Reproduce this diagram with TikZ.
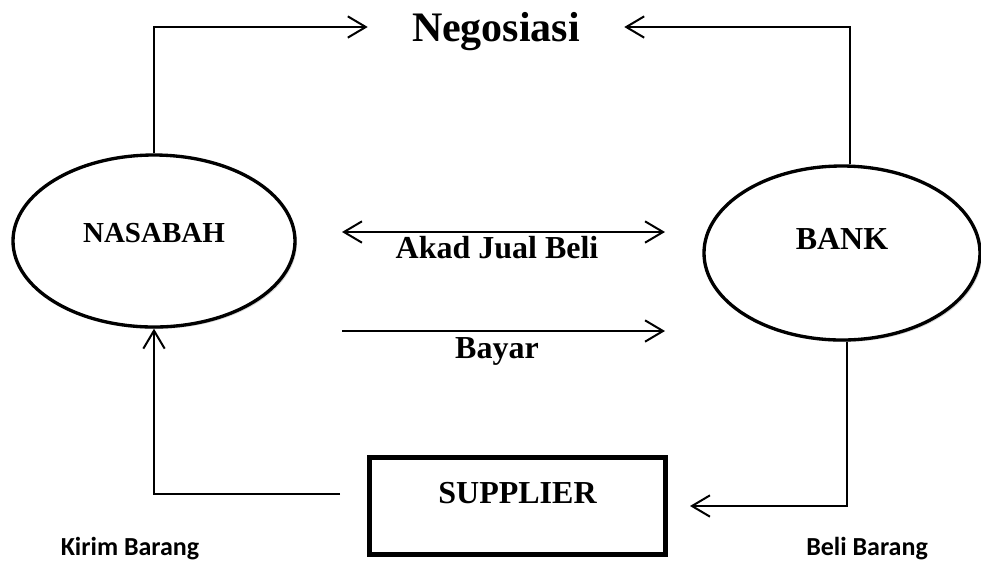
\documentclass[tikz,border=0pt]{standalone}
\usepackage{fontspec}
\setmainfont{Liberation Serif}
\newfontfamily\calibrifont{Carlito}
\usepackage{tikz}
\usetikzlibrary{arrows.meta,shapes.geometric,calc,positioning,shadows}

\tikzset{
  >={Straight Barb[length=13.5pt,width=16pt]},
  soft shade/.style={drop shadow={shadow xshift=1.5pt,shadow yshift=-1.5pt,fill=black!30,opacity=.5}},
  actor/.style={ellipse,draw,fill=white,line width=2.5pt,inner sep=0pt,soft shade},
  flow/.style={line width=1.5pt,->},
  lbl/.style={inner sep=0.75pt,font=\bfseries\fontsize{24}{28}\selectfont},
  note/.style={inner sep=0.75pt,font=\calibrifont\bfseries\fontsize{19.5}{23}\selectfont},
}

\begin{document}
\begin{tikzpicture}[x=0.75pt,y=0.75pt,yscale=-1,xscale=1]
  \useasboundingbox (0,0) rectangle (981,562);

  % Text Node
  \node [font=\bfseries\fontsize{31.5}{36}\selectfont,text depth=0pt,inner xsep=33pt,inner ysep=0pt] (nego) at (496,27) {Negosiasi};

  %Shape: Ellipse
  \node [actor,minimum width=211.5pt,minimum height=129pt,text depth=12pt,font=\bfseries\fontsize{21.75}{26}\selectfont] (nasabah) at (154,241) {NASABAH};
  %Shape: Ellipse
  \node [actor,minimum width=207pt,minimum height=130.5pt,text depth=21pt,font=\bfseries\fontsize{24}{28}\selectfont] (bank) at (842,253) {BANK};
  %Shape: Rectangle
  \node [draw,fill=white,soft shade,line width=3.75pt,inner sep=0pt,minimum width=222pt,minimum height=72.75pt,text depth=19.5pt,font=\bfseries\fontsize{24}{28}\selectfont] (supplier) at (517.5,506) {SUPPLIER};

  % arrow ends between the two ellipses
  \coordinate (akad-l) at (342,232);
  \coordinate (akad-r) at (665,232);
  \coordinate (bayar-l) at (342,331);
  \coordinate (bayar-r) at (665,331);

  %Straight Lines
  \draw [flow] (nasabah.north) |- (nego.west);
  \draw [flow] (bank.85) |- (nego.east);
  \draw [flow,<->] (akad-l) -- (akad-r);
  \draw [flow] (bayar-l) -- (bayar-r);
  \draw [flow] (bank.273) |- ($(supplier.east)+(22,0)$);
  \draw [flow] ($(supplier.west)+(-27,-12)$) -| (nasabah.south);

  % Text Node
  \node [lbl] (akadlbl) at (497,248) {Akad Jual Beli};
  % Text Node
  \node [lbl] (bayarlbl) at (497,351) {Bayar};
  % Text Node
  \node [note] (kirim) at (130,549) {Kirim Barang};
  % Text Node
  \node [note] (beli) at (867,549) {Beli Barang};
\end{tikzpicture}
\end{document}
